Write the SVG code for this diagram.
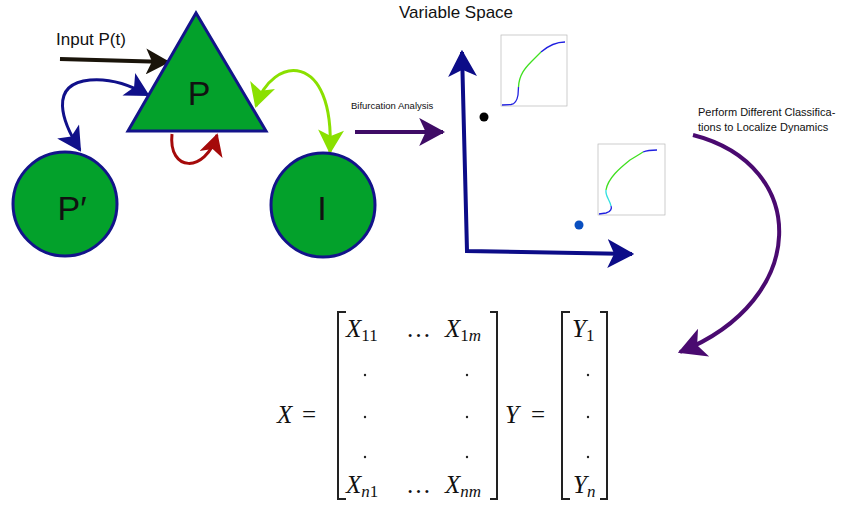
<svg xmlns="http://www.w3.org/2000/svg" width="849" height="510" viewBox="0 0 849 510">
<style>
.node{fill:#03a12b;stroke:#13138a;stroke-width:3}
.lbl{font-family:"Liberation Sans",Arial,sans-serif;fill:#111}
.big{font-size:34px;text-anchor:middle}
.math{font-family:"Liberation Serif","Times New Roman",serif;fill:#111;font-size:25px}
.it{font-style:italic}
.sub{font-size:17px}
.br{fill:none;stroke:#222;stroke-width:2}
.frame{fill:none;stroke:#b8b8b8;stroke-width:0.7}
.crv{fill:none;stroke-width:1.3}
</style>
<defs>
<marker id="mk-black" viewBox="0 0 24 26" refX="22" refY="13" markerWidth="24" markerHeight="26" markerUnits="userSpaceOnUse" orient="auto"><path d="M0,0 L24,13 L0,26 L6,13 z" fill="#1a140a"/></marker>
<marker id="mk-blue" viewBox="0 0 24 26" refX="22" refY="13" markerWidth="26" markerHeight="26" markerUnits="userSpaceOnUse" orient="auto-start-reverse"><path d="M0,0 L24,13 L0,26 L6,13 z" fill="#10108a"/></marker>
<marker id="mk-red" viewBox="0 0 24 26" refX="22" refY="13" markerWidth="24" markerHeight="24" markerUnits="userSpaceOnUse" orient="auto"><path d="M0,0 L24,13 L0,26 L6,13 z" fill="#a50a0a"/></marker>
<marker id="mk-green" viewBox="0 0 24 26" refX="22" refY="13" markerWidth="26" markerHeight="26" markerUnits="userSpaceOnUse" orient="auto-start-reverse"><path d="M0,0 L24,13 L0,26 L6,13 z" fill="#8ae000"/></marker>
<marker id="mk-purple" viewBox="0 0 24 26" refX="22" refY="13" markerWidth="26" markerHeight="29" markerUnits="userSpaceOnUse" orient="auto"><path d="M0,0 L24,13 L0,26 L6,13 z" fill="#3f0c66"/></marker>
<marker id="mk-navy" viewBox="0 0 24 26" refX="22" refY="13" markerWidth="27" markerHeight="29" markerUnits="userSpaceOnUse" orient="auto-start-reverse"><path d="M0,0 L24,13 L0,26 L6,13 z" fill="#0c0c88"/></marker>
<marker id="mk-violet" viewBox="0 0 24 26" refX="22" refY="13" markerWidth="30" markerHeight="30" markerUnits="userSpaceOnUse" orient="auto"><path d="M0,0 L24,13 L0,26 L6,13 z" fill="#4a0a70"/></marker>
</defs>

<g id="connectors">
<path d="M60 59 L168 62" fill="none" stroke="#1a140a" stroke-width="4" marker-end="url(#mk-black)"/>
<path d="M80 150 C 62 122, 48 84, 90 80 C 112 78, 132 86, 148 95" fill="none" stroke="#10108a" stroke-width="3" marker-start="url(#mk-blue)" marker-end="url(#mk-blue)"/>
<path d="M172 134 C 168 172, 205 174, 217 135" fill="none" stroke="#a50a0a" stroke-width="3" marker-end="url(#mk-red)"/>
<path d="M256 106 C 272 55, 335 50, 330 152" fill="none" stroke="#8ae000" stroke-width="3" marker-start="url(#mk-green)" marker-end="url(#mk-green)"/>
<path d="M355 132 L443 132" fill="none" stroke="#3f0c66" stroke-width="4" marker-end="url(#mk-purple)"/>
<path d="M693 135 C 810 165, 810 300, 680 352" fill="none" stroke="#4a0a70" stroke-width="4" marker-end="url(#mk-violet)"/>
</g>

<g id="node-P">
<polygon class="node" points="196,13 128,131 266,131"/>
<text class="lbl big" x="199" y="105">P</text>
</g>
<g id="node-Pprime">
<circle class="node" cx="65" cy="204" r="52"/>
<text class="lbl big" x="72" y="220">P′</text>
</g>
<g id="node-I">
<circle class="node" cx="323" cy="205" r="52"/>
<text class="lbl big" x="322" y="220">I</text>
</g>

<text class="lbl" x="56" y="45" font-size="17">Input P(t)</text>
<text class="lbl" x="351" y="109" font-size="9.5">Bifurcation Analysis</text>
<text class="lbl" x="399" y="18" font-size="17">Variable Space</text>
<text class="lbl" x="698" y="116" font-size="11">Perform Different Classifica-</text>
<text class="lbl" x="698" y="131" font-size="11">tions to Localize Dynamics</text>

<g id="variable-space">
<path d="M462 52 L467 251 L632 254" fill="none" stroke="#0c0c88" stroke-width="4" stroke-linejoin="miter" marker-start="url(#mk-navy)" marker-end="url(#mk-navy)"/>
<circle cx="484" cy="117" r="4.5" fill="#000"/>
<circle cx="579" cy="225" r="4.5" fill="#0a4fc0"/>
</g>

<g id="plot-1">
<rect class="frame" x="501" y="35" width="66" height="71"/>
<path class="crv" stroke="#2020e0" d="M502 105 L511 104.5 C 515 104, 517 101, 518 95 L518.5 87"/>
<path class="crv" stroke="#40e020" d="M518.5 87 C 519 75, 525 68, 532 61 C 535 58, 538 55, 541 52"/>
<path class="crv" stroke="#2020e0" d="M541 52 C 548 46, 555 42, 565 42"/>
</g>
<g id="plot-2">
<rect class="frame" x="598" y="144" width="67" height="71"/>
<path class="crv" stroke="#2020e0" d="M599 214 L606 213 C 611 212, 612 208, 611 206"/>
<path class="crv" stroke="#30e0e0" d="M611 206 C 610 200, 605 196, 606 190"/>
<path class="crv" stroke="#40e020" d="M606 190 C 608 178, 620 168, 630 160 C 635 157, 640 154, 643 152"/>
<path class="crv" stroke="#2020e0" d="M643 152 C 648 150, 652 150, 657 150"/>
</g>

<g id="matrix">
<text class="math it" x="277" y="423">X</text>
<text class="math" x="302" y="423">=</text>
<path class="br" d="M346 312 L338 312 L338 499 L346 499"/>
<path class="br" d="M490 312 L497 312 L497 499 L490 499"/>
<text class="math" x="346" y="337"><tspan class="it">X</tspan><tspan class="sub" dy="4">11</tspan></text>
<text class="math" x="406" y="337">…</text>
<text class="math" x="445" y="337"><tspan class="it">X</tspan><tspan class="sub" dy="4">1<tspan class="it">m</tspan></tspan></text>
<circle cx="365" cy="375" r="1.2" fill="#222"/>
<circle cx="365" cy="417" r="1.2" fill="#222"/>
<circle cx="365" cy="457" r="1.2" fill="#222"/>
<circle cx="467" cy="375" r="1.2" fill="#222"/>
<circle cx="467" cy="417" r="1.2" fill="#222"/>
<circle cx="467" cy="457" r="1.2" fill="#222"/>
<text class="math" x="346" y="493"><tspan class="it">X</tspan><tspan class="sub" dy="4"><tspan class="it">n</tspan>1</tspan></text>
<text class="math" x="406" y="493">…</text>
<text class="math" x="445" y="493"><tspan class="it">X</tspan><tspan class="sub it" dy="4">nm</tspan></text>
<text class="math it" x="505" y="423">Y</text>
<text class="math" x="531" y="423">=</text>
<path class="br" d="M570 312 L562 312 L562 499 L570 499"/>
<path class="br" d="M600 312 L607 312 L607 499 L600 499"/>
<text class="math" x="572" y="337"><tspan class="it">Y</tspan><tspan class="sub" dy="4">1</tspan></text>
<circle cx="588" cy="375" r="1.2" fill="#222"/>
<circle cx="588" cy="417" r="1.2" fill="#222"/>
<circle cx="588" cy="457" r="1.2" fill="#222"/>
<text class="math" x="573" y="493"><tspan class="it">Y</tspan><tspan class="sub it" dy="4">n</tspan></text>
</g>
</svg>
